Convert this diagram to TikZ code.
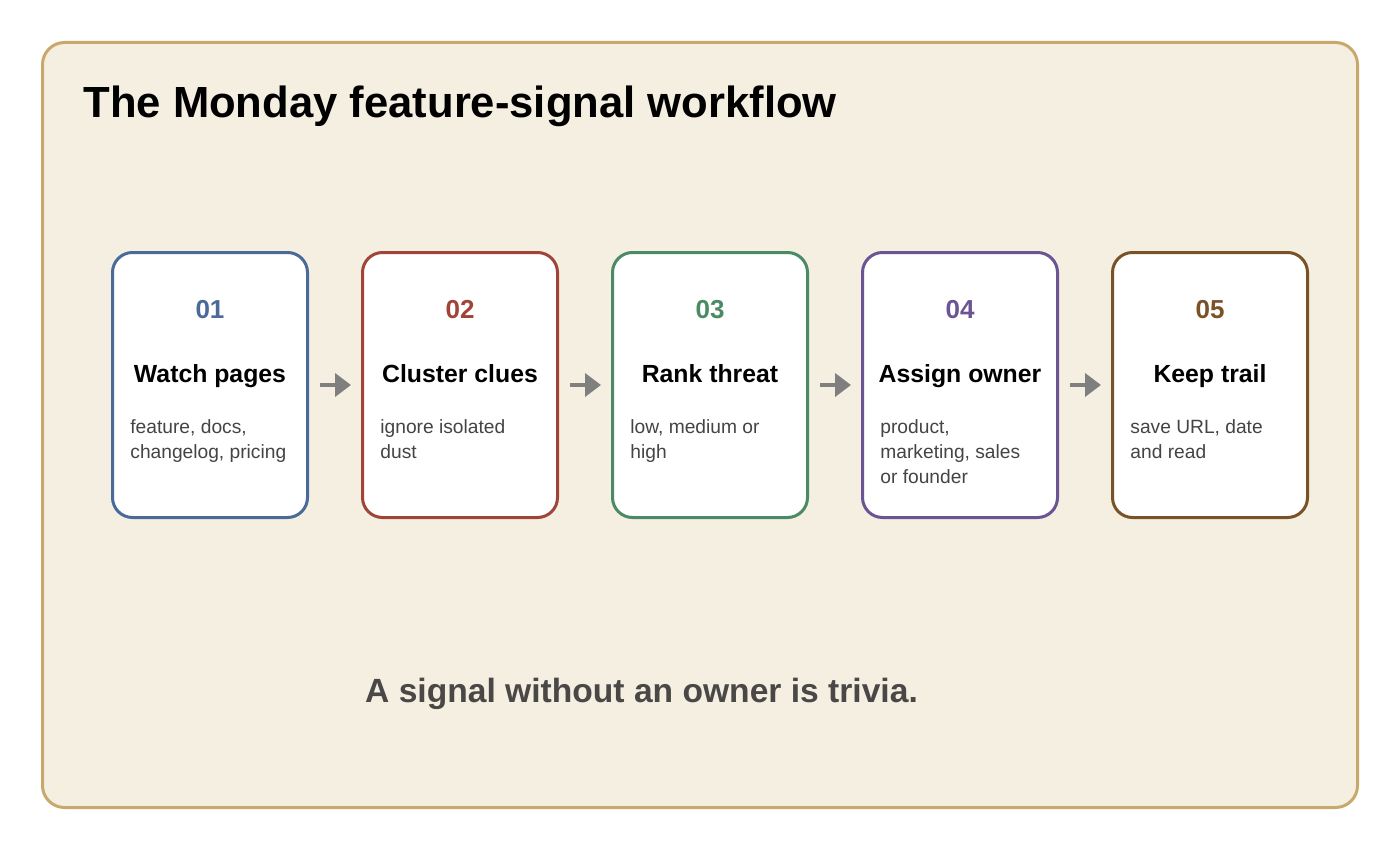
\documentclass[tikz,border=0pt]{standalone}
\usepackage{fontspec}
\setmainfont{Liberation Sans}
\usetikzlibrary{positioning,arrows.meta}

\definecolor{frameline}{HTML}{C8A96B}
\definecolor{framefill}{HTML}{F5EFE2}
\definecolor{watchc}{HTML}{4A6A9A}
\definecolor{clusterc}{HTML}{A0443A}
\definecolor{rankc}{HTML}{4A8A64}
\definecolor{ownerc}{HTML}{6A5494}
\definecolor{trailc}{HTML}{7A5228}
\definecolor{notec}{HTML}{444444}
\definecolor{mottoc}{HTML}{4A4846}
\definecolor{flowc}{HTML}{7F7F7F}

\begin{document}
\begin{tikzpicture}[x=0.5pt, y=-0.5pt,
  stage/.style={draw=#1, line width=1.5pt, fill=white, rounded corners=10pt, minimum width=97.5pt, minimum height=132.5pt, outer sep=0pt, inner sep=0pt},
  num/.style={text=#1, font=\fontsize{13}{15}\selectfont\bfseries, anchor=base, inner sep=0pt},
  head/.style={font=\fontsize{12.4}{15}\selectfont\bfseries, anchor=base, inner sep=0pt},
  body/.style={text=notec, font=\fontsize{9.6}{12.35}\selectfont, align=left, anchor=north west, inner sep=0pt},
  flow/.style={draw=flowc, line width=2pt, -{Triangle[length=8pt, width=11.5pt]}, shorten <=6.25pt, shorten >=5.75pt}]

  \useasboundingbox (0,0) rectangle (1400,850);
  \draw[draw=frameline, fill=framefill, line width=1.5pt, rounded corners=11pt] (42.5,42.5) rectangle (1357.5,807.5);

  \node[anchor=base west, inner sep=0pt, font=\fontsize{21.8}{26}\selectfont\bfseries] (title) at (83,118) {The Monday feature-signal workflow};

  % the five stages
  \node[stage=watchc] (watch) at (210,385) {};
  \node[stage=clusterc, right=27.5pt of watch] (cluster) {};
  \node[stage=rankc, right=27.5pt of cluster] (rank) {};
  \node[stage=ownerc, right=27.5pt of rank] (owner) {};
  \node[stage=trailc, right=27.5pt of owner] (trail) {};

  \node[num=watchc] (watchnum) at ([yshift=-33pt]watch.north) {01};
  \node[head] (watchhead) at ([yshift=-64.75pt]watch.north) {Watch pages};
  \node[body] (watchbody) at ([xshift=8.75pt, yshift=-83.5pt]watch.north west) {feature, docs,\\changelog, pricing};

  \node[num=clusterc] (clusternum) at ([yshift=-33pt]cluster.north) {02};
  \node[head] (clusterhead) at ([yshift=-64.75pt]cluster.north) {Cluster clues};
  \node[body] (clusterbody) at ([xshift=8.75pt, yshift=-83.5pt]cluster.north west) {ignore isolated\\dust};

  \node[num=rankc] (ranknum) at ([yshift=-33pt]rank.north) {03};
  \node[head] (rankhead) at ([yshift=-64.75pt]rank.north) {Rank threat};
  \node[body] (rankbody) at ([xshift=8.75pt, yshift=-83.5pt]rank.north west) {low, medium or\\high};

  \node[num=ownerc] (ownernum) at ([yshift=-33pt]owner.north) {04};
  \node[head] (ownerhead) at ([yshift=-64.75pt]owner.north) {Assign owner};
  \node[body] (ownerbody) at ([xshift=8.75pt, yshift=-83.5pt]owner.north west) {product,\\marketing, sales\\or founder};

  \node[num=trailc] (trailnum) at ([yshift=-33pt]trail.north) {05};
  \node[head] (trailhead) at ([yshift=-64.75pt]trail.north) {Keep trail};
  \node[body] (trailbody) at ([xshift=8.75pt, yshift=-83.5pt]trail.north west) {save URL, date\\and read};

  % hand-offs
  \draw[flow] (watch) -- (cluster);
  \draw[flow] (cluster) -- (rank);
  \draw[flow] (rank) -- (owner);
  \draw[flow] (owner) -- (trail);

  \node[anchor=base, inner sep=0pt, text=mottoc, font=\fontsize{16.8}{20}\selectfont\bfseries] (motto) at (641.5,702) {A signal without an owner is trivia.};
\end{tikzpicture}
\end{document}
